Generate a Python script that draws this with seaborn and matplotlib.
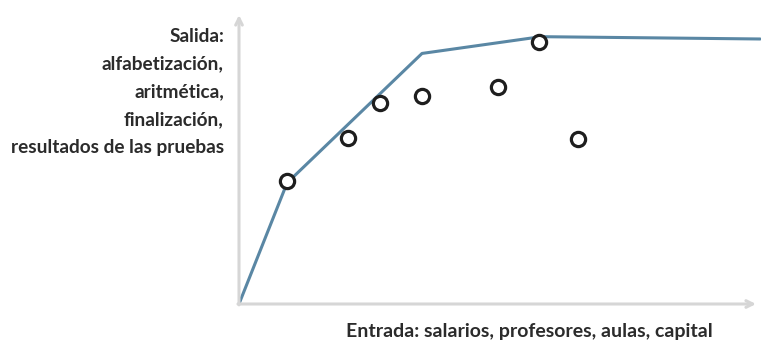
import matplotlib
matplotlib.use("Agg")
import matplotlib.pyplot as plt
import seaborn as sns
import pandas as pd

# Efficiency frontier vertices (input, output)
frontier_input = [0.0, 9.3, 35.4, 58.4, 100.8]
frontier_output = [0.0, 41.9, 86.7, 92.5, 91.7]

# Observed schools (input, output)
school_input = [9.2, 21.1, 27.3, 35.3, 50.1, 58.0, 65.6]
school_output = [42.7, 57.5, 69.4, 72.1, 75.1, 90.6, 57.1]

y_label = "Salida:\nalfabetización,\naritmética,\nfinalización,\nresultados de las pruebas"
x_label = "Entrada: salarios, profesores, aulas, capital"

sns.set_style("white")
plt.rcParams["font.family"] = ["Lato", "DejaVu Sans"]

W, H = 761, 343
fig = plt.figure(figsize=(W / 100, H / 100), dpi=100)
# axes from origin (239, 304) to arrow tips (756, 15)
ax = fig.add_axes([239 / W, 1 - 304 / H, 517 / W, 289 / H])
ax.set_xlim(0, 100)
ax.set_ylim(0, 100)
ax.set_axis_off()

axis_color = "#d6d6d6"
ax.annotate("", xy=(100, 0), xytext=(-0.2, 0),
            arrowprops=dict(arrowstyle="->", color=axis_color, lw=2.2,
                            shrinkA=0, shrinkB=0, mutation_scale=12),
            annotation_clip=False)
ax.annotate("", xy=(0, 100), xytext=(0, -0.3),
            arrowprops=dict(arrowstyle="->", color=axis_color, lw=2.2,
                            shrinkA=0, shrinkB=0, mutation_scale=12),
            annotation_clip=False)

frontier = pd.DataFrame({"entrada": frontier_input, "salida": frontier_output})
schools = pd.DataFrame({"entrada": school_input, "salida": school_output})

sns.lineplot(data=frontier, x="entrada", y="salida", ax=ax, color="#5a87a4",
             lw=2.2, sort=False, estimator=None, clip_on=False)
sns.scatterplot(data=schools, x="entrada", y="salida", ax=ax, s=105,
                facecolor="white", edgecolor="#1e1e1e", linewidth=2.3,
                zorder=5, clip_on=False)

text_color = "#2b2b2b"
fig.text(224 / W, 1 - 92 / H, y_label, ha="right", va="center",
         fontsize=13.7, fontweight="bold", color=text_color, linespacing=1.78)
fig.text(529 / W, 1 - 332 / H, x_label, ha="center", va="center",
         fontsize=14, fontweight="bold", color=text_color)

fig.savefig("out.png", dpi=100)
